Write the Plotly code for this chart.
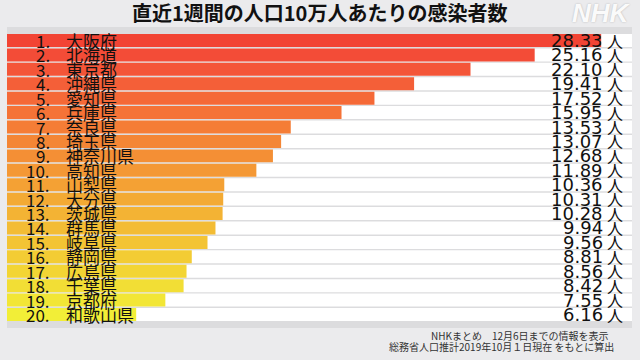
import plotly.graph_objects as go

ranks = list(range(1, 21))
prefectures = ["大阪府", "北海道", "東京都", "沖縄県", "愛知県", "兵庫県", "奈良県", "埼玉県",
               "神奈川県", "高知県", "山梨県", "大分県", "茨城県", "群馬県", "岐阜県", "静岡県",
               "広島県", "千葉県", "京都府", "和歌山県"]
values = [28.33, 25.16, 22.10, 19.41, 17.52, 15.95, 13.53, 13.07, 12.68, 11.89,
          10.36, 10.31, 10.28, 9.94, 9.56, 8.81, 8.56, 8.42, 7.55, 6.16]
bar_colors = ["#f24434", "#f34c37", "#f45538", "#f45f38", "#f56937", "#f57337", "#f57d36",
              "#f48635", "#f48f35", "#f49835", "#f4a134", "#f3aa34", "#f3b334", "#f3bc34",
              "#f3c434", "#f3cc34", "#f3d534", "#f2de35", "#f2e636", "#f2ee37"]
x_max = 29.8

FONT = "Noto Sans CJK JP"
NUMFONT = "DejaVu Sans, Noto Sans CJK JP"
ycats = [f"r{r}" for r in ranks]

fig = go.Figure()
fig.add_trace(go.Bar(x=[x_max] * len(ycats), y=ycats, orientation="h",
                     marker=dict(color="white", line=dict(width=0)),
                     hoverinfo="skip", showlegend=False))
fig.add_trace(go.Bar(x=values, y=ycats, orientation="h",
                     marker=dict(color=bar_colors, line=dict(width=0), cornerradius=2),
                     showlegend=False))

ann = []
for r, name, v, yc in zip(ranks, prefectures, values, ycats):
    ann.append(dict(x=0.0704, y=yc, xref="paper", yref="y", xanchor="right", yanchor="middle",
                    text=f"{r}.", showarrow=False, borderpad=0,
                    font=dict(family=FONT, size=17, color="#111")))
    ann.append(dict(x=0.0928, y=yc, xref="paper", yref="y", xanchor="left", yanchor="middle",
                    text=name, showarrow=False, borderpad=0,
                    font=dict(family=FONT, size=17, color="#111")))
    ann.append(dict(x=0.9555, y=yc, xref="paper", yref="y", xanchor="right", yanchor="middle",
                    text=f"{v:.2f}", showarrow=False, borderpad=0,
                    font=dict(family=NUMFONT, size=18, color="#111")))
    ann.append(dict(x=0.9585, y=yc, xref="paper", yref="y", xanchor="left", yanchor="middle",
                    text="人", showarrow=False, borderpad=0,
                    font=dict(family=FONT, size=16, color="#111")))

ann.append(dict(x=0.5, y=1.0498, xref="paper", yref="paper", xanchor="center", yanchor="middle",
                text="<b>直近1週間の人口10万人あたりの感染者数</b>", showarrow=False, borderpad=0,
                font=dict(family=FONT, size=20, color="#111")))
ann.append(dict(x=1.0, y=1.0465, xref="paper", yref="paper", xanchor="right", yanchor="middle",
                text="NHK", showarrow=False, borderpad=0,
                font=dict(family="Liberation Sans", size=26, color="rgba(255,255,255,0.95)",
                          weight=900, style="italic", shadow="0px 0px 2px rgba(0,0,0,0.25)")))
ann.append(dict(x=0.965, y=-0.0249, xref="paper", yref="paper", xanchor="right", yanchor="middle",
                text="NHKまとめ　12月6日までの情報を表示", showarrow=False, borderpad=0,
                font=dict(family=FONT, size=10, color="#333")))
ann.append(dict(x=0.973, y=-0.063, xref="paper", yref="paper", xanchor="right", yanchor="middle",
                text="総務省人口推計2019年10月１日現在 をもとに算出", showarrow=False, borderpad=0,
                font=dict(family=FONT, size=10, color="#333")))

fig.update_layout(
    width=640, height=360,
    margin=dict(l=7, r=8, t=27, b=32),
    paper_bgcolor="#ebebed", plot_bgcolor="#dcdcde",
    barmode="overlay", bargap=0.1,
    xaxis=dict(range=[0, x_max], visible=False, fixedrange=True),
    yaxis=dict(type="category", categoryorder="array", categoryarray=ycats,
               autorange="reversed", visible=False, fixedrange=True),
    annotations=ann,
)

fig.write_html("out.html", config={"displayModeBar": False},
               post_script="document.body.style.margin='0';document.body.style.overflow='hidden';")
